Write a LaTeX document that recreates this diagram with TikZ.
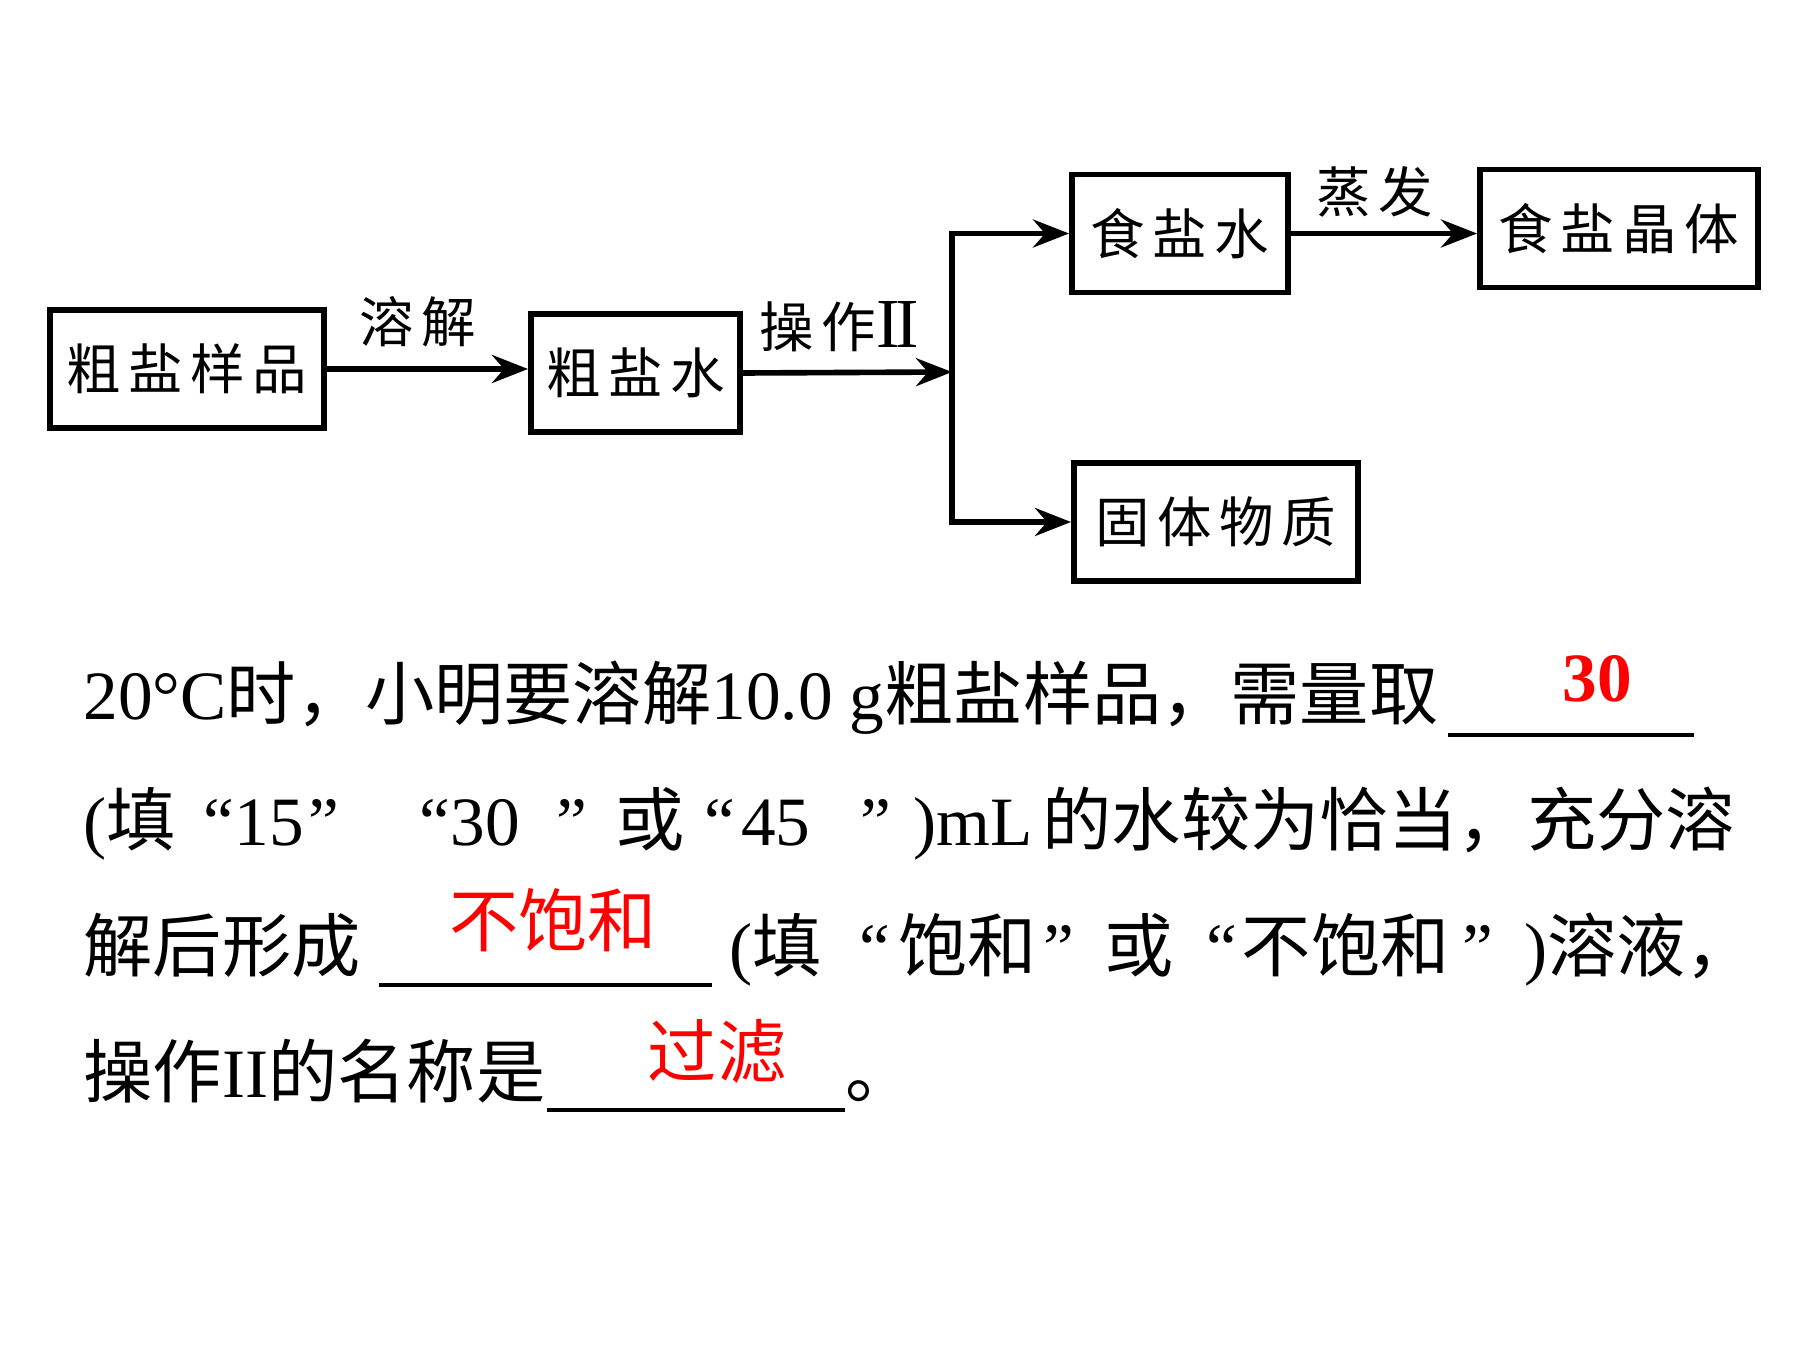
\documentclass[tikz,border=0pt]{standalone}
\usepackage{fontspec}
\setmainfont{Liberation Serif}
\newfontfamily\cjk{Noto Sans CJK SC}
\newfontfamily\cjkcaja[LetterSpace=14]{Noto Sans CJK SC}
\usetikzlibrary{arrows.meta}
\newcommand{\zh}[1]{{\cjk #1}}
\newcommand{\esp}[1]{\hspace{#1cm}}

\begin{document}
\begin{tikzpicture}[
  caja/.style={draw, line width=1.7pt, minimum height=1.18cm, inner sep=0pt,
    font=\cjkcaja\fontsize{15.5}{18}\selectfont},
  flecha/.style={line width=1.6pt, -{Stealth[length=3.6mm,width=2.8mm,inset=1.2mm]}},
  etiq/.style={inner sep=0pt, font=\cjkcaja\fontsize{15.5}{18}\selectfont},
  texto/.style={anchor=base west, inner sep=0pt, font=\fontsize{19.7}{24}\selectfont},
  resp/.style={anchor=base, inner sep=0pt, text=red, font=\fontsize{19.7}{24}\selectfont},
  raya/.style={line width=1.1pt}
]
 \useasboundingbox (0,0) rectangle (18,13.5);
 \def\xl{0.83} % margen izq del texto
% diagrama
 \node[caja, minimum width=2.735cm] (muestra) at (1.87,9.81) {粗盐样品};
 \node[caja, minimum width=2.09cm] (agua) at (6.355,9.77) {粗盐水};
 \node[caja, minimum width=2.16cm] (salmuera) at (11.80,11.165) {食盐水};
 \node[caja, minimum width=2.78cm] (cristal) at (16.19,11.215) {食盐晶体};
 \node[caja, minimum width=2.84cm] (solido) at (12.16,8.28) {固体物质};
 \coordinate (nudo) at (9.52,9.78);
 \draw[flecha] (muestra.east) -- (muestra.east -| agua.west)
   node[etiq, pos=0.45, above=0.19cm] (disolver) {溶解};
 \draw[flecha] (agua.east) -- (nudo)
   node[etiq, pos=0.46, above=0.18cm] (operar) {操作{\rmfamily\fontsize{20}{20}\selectfont I\kern-0.06em I}};
 \draw[flecha] (nudo) |- (salmuera.west);
 \draw[flecha] (nudo) |- (solido.west);
 \draw[flecha] (salmuera.east) -- (salmuera.east -| cristal.west)
   node[etiq, pos=0.45, above=0.13cm] (evaporar) {蒸发};
% texto
 \node[texto] (linea1) at (\xl,6.30) {20°C\zh{时，小明要溶解}10.0 g\zh{粗盐样品，需量取}};
 \node[resp] (r1) at (15.97,6.48) {\bfseries 30};
 \draw[raya] (14.48,6.15) -- (16.94,6.15);
 \node[texto] (linea2) at (\xl,5.04) {(\zh{填}\esp{0.28}“15\esp{0.05}”\esp{0.8}“30\esp{0.37}”\esp{0.28}\zh{或}\esp{0.2}“\esp{0.06}45\esp{0.5}”\esp{0.22})mL\esp{0.1}\zh{的水较为恰当，充分溶}};
 \node[texto] (linea3) at (\xl,3.78) {\zh{解后形成}};
 \node[resp] (r2) at (5.53,4.03) {\zh{不饱和}};
 \draw[raya] (3.79,3.65) -- (7.12,3.65);
 \node[texto] (linea3b) at (7.29,3.78) {(\zh{填}\esp{0.38}“\esp{0.08}\zh{饱和}\esp{0.06}”\esp{0.31}\zh{或}\esp{0.32}“\esp{0.05}\zh{不饱和}\esp{0.13}”\esp{0.31})\zh{溶液，}};
 \node[texto] (linea4) at (\xl,2.52) {\zh{操作}II\zh{的名称是}};
 \node[resp] (r3) at (7.17,2.72) {\zh{过滤}};
 \draw[raya] (5.47,2.40) -- (8.45,2.40);
 \node[texto] (punto) at (8.45,2.52) {\zh{。}};
\end{tikzpicture}
\end{document}
